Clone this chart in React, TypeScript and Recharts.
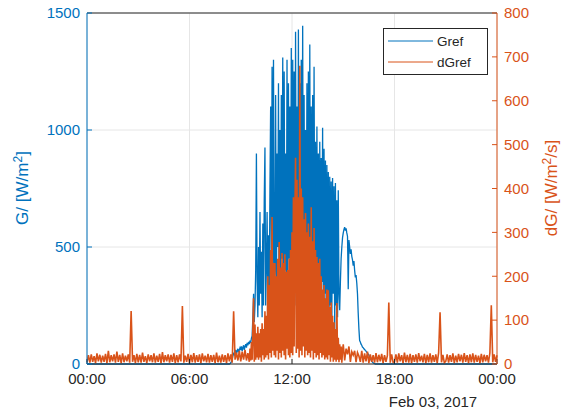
import React from 'react';
import {
  ComposedChart,
  Line,
  XAxis,
  YAxis,
  CartesianGrid,
  ReferenceLine,
} from 'recharts';

const BLUE = '#0072BD';
const ORANGE = '#D95319';
const INK = '#262626';
const FONT = '"Liberation Sans", Arial, Helvetica, sans-serif';

// Gref sampling: 00:00, then every 2.5 min from 08:00 to 17:00, then 24:00
const gTimes = [0, ...Array.from({ length: 217 }, (_, i) => 8 + i / 24), 24];

// global irradiance Gref [W/m2]
const gref = [
  0, // 00:00
  // 08:00
  0, 0, 0, 0, 0, 0, 0, 0, 0, 2, 5, 10, 20, 35, 45, 40, 50, 60, 45, 55, 65, 50, 60, 70,
  // 09:00
  60, 75, 55, 70, 80, 60, 75, 85, 70, 90, 80, 95, 85, 100, 90, 110, 120, 200, 300, 180, 250, 400, 900, 350,
  // 10:00
  200, 500, 250, 650, 300, 480, 200, 600, 250, 700, 925, 250, 400, 650, 300, 550, 250, 750, 1100, 350, 1270, 400, 1300, 350,
  // 11:00
  400, 1150, 250, 900, 500, 1200, 200, 1000, 350, 1150, 450, 1310, 250, 1250, 400, 900, 300, 1300, 200, 1200, 450, 1100, 350, 1350,
  // 12:00
  300, 1300, 450, 1250, 250, 1420, 400, 1100, 200, 1430, 350, 1200, 250, 1300, 450, 1445, 200, 1150, 300, 1000, 400, 1200, 250, 1250,
  // 13:00
  300, 1365, 200, 1100, 350, 1150, 250, 1270, 400, 950, 200, 1015, 300, 900, 150, 950, 250, 880, 350, 1010, 200, 920, 300, 870,
  // 14:00
  200, 850, 300, 820, 150, 800, 250, 780, 200, 795, 300, 760, 150, 773, 250, 700, 200, 743, 300, 230, 350, 450, 500, 540,
  // 15:00
  560, 575, 585, 570, 580, 560, 545, 320, 530, 500, 470, 490, 460, 445, 420, 440, 400, 370, 380, 346, 300, 218, 150, 100,
  // 16:00
  94, 85, 80, 72, 70, 65, 62, 58, 55, 50, 48, 42, 38, 30, 25, 18, 12, 8, 5, 3, 2, 0, 0, 0,
  0, // 17:00
  0, // 24:00
];

// dGref [W/m2/s], 5-min samples 00:00 - 09:25
const dgNight1 = [
  4, 20, 3, 22, 5, 18, 2, 24, 6, 21, 3, 19,
  5, 23, 2, 30, 4, 20, 6, 22, 3, 28, 5, 21,
  2, 24, 4, 19, 6, 22, 3, 121, 5, 20, 2, 23,
  4, 21, 3, 26, 5, 18, 2, 22, 6, 20, 4, 24,
  3, 19, 5, 23, 2, 27, 4, 20, 6, 22, 3, 21,
  5, 24, 2, 20, 4, 22, 6, 132, 3, 19, 5, 23,
  2, 21, 4, 25, 3, 20, 5, 22, 2, 24, 6, 19,
  4, 23, 3, 20, 5, 21, 2, 26, 4, 19, 3, 22,
  5, 20, 2, 24, 6, 22, 3, 120, 10, 26, 8, 30,
  6, 28, 10, 32, 8, 25,
];

// dGref, 2.5-min samples 09:30 - 14:57.5
const dgDay = [
  5, 35, 8, 50, 10, 80, 150, 5, 90, 10, 70, 15,
  85, 10, 70, 15, 80, 5, 93, 20, 80, 10, 120, 15, 110, 20, 200, 10, 180, 25, 260, 15, 335, 30, 230, 20,
  230, 15, 200, 30, 240, 10, 278, 25, 220, 15, 253, 30, 230, 20, 250, 10, 210, 35, 214, 20, 240, 15, 260, 25,
  300, 20, 380, 40, 330, 470, 25, 420, 35, 380, 15, 680, 30, 400, 20, 380, 40, 330, 15, 344, 30, 300, 20, 320,
  25, 290, 15, 357, 30, 280, 10, 310, 25, 260, 15, 244, 20, 230, 10, 240, 25, 200, 15, 170, 20, 180, 10, 150,
  15, 170, 10, 168, 20, 130, 5, 140, 15, 110, 5, 95, 10, 80, 5, 139, 10, 60, 4, 45, 10, 40, 3, 30,
];

// dGref, 5-min samples 15:00 - 24:00
const dgNight2 = [
  45, 8, 35, 22, 40, 5, 28, 20, 30, 4, 26, 18,
  5, 30, 3, 24, 6, 28, 2, 22, 5, 20, 3, 25,
  4, 21, 6, 23, 2, 20, 5, 19, 140, 3, 22, 4,
  5, 22, 3, 24, 6, 20, 2, 26, 4, 21, 3, 23,
  2, 20, 5, 22, 3, 25, 6, 19, 4, 23, 2, 21,
  4, 24, 3, 20, 5, 22, 2, 26, 118, 4, 21, 3,
  6, 22, 3, 20, 5, 24, 2, 19, 4, 23, 6, 21,
  3, 25, 5, 20, 2, 22, 4, 24, 3, 21, 5, 19,
  2, 23, 4, 21, 6, 20, 3, 25, 134, 4, 22, 5,
  20,
];

const dgTimes = [
  ...dgNight1.map((_, i) => i / 12),
  ...dgDay.map((_, i) => 9.5 + i / 24),
  ...dgNight2.map((_, i) => 15 + i / 12),
];
const dgref = [...dgNight1, ...dgDay, ...dgNight2];

const timeTicks = [0, 6, 12, 18, 24];
const gTicks = [0, 500, 1000, 1500];
const dgTicks = [0, 100, 200, 300, 400, 500, 600, 700, 800];

const gData = gTimes.map((t, i) => ({ t, g: gref[i] }));
const dgData = dgTimes.map((t, i) => ({ t, dg: dgref[i] }));

const fmtTime = (h: number) => String(h % 24).padStart(2, '0') + ':00';

export default function App() {
  return (
    <div style={{ position: 'absolute', left: 0, top: 0, width: 570, height: 414, fontFamily: FONT }}>
      <ComposedChart
        width={570}
        height={414}
        margin={{ top: 13, right: 0, bottom: 20, left: 0 }}
        style={{ fontFamily: FONT }}
      >
        <CartesianGrid yAxisId="left" stroke="#e6e6e6" />
        <XAxis
          dataKey="t"
          type="number"
          domain={[0, 24]}
          ticks={timeTicks}
          tickFormatter={fmtTime}
          allowDuplicatedCategory={false}
          height={30}
          stroke={INK}
          tickSize={-5}
          tickMargin={14}
          tick={{ fill: INK, fontSize: 15 }}
        />
        <YAxis
          yAxisId="left"
          domain={[0, 1500]}
          ticks={gTicks}
          width={87}
          stroke={BLUE}
          tickSize={-5}
          tickMargin={12}
          tick={{ fill: BLUE, fontSize: 15 }}
        />
        <YAxis
          yAxisId="right"
          orientation="right"
          domain={[0, 800]}
          ticks={dgTicks}
          width={73}
          stroke={ORANGE}
          tickSize={-5}
          tickMargin={12}
          tick={{ fill: ORANGE, fontSize: 15 }}
        />
        <ReferenceLine yAxisId="left" y={1500} stroke={INK} />
        <Line
          yAxisId="left"
          data={gData}
          dataKey="g"
          stroke={BLUE}
          strokeWidth={1.3}
          dot={false}
          activeDot={false}
          isAnimationActive={false}
        />
        <Line
          yAxisId="right"
          data={dgData}
          dataKey="dg"
          stroke={ORANGE}
          strokeWidth={1.6}
          dot={false}
          activeDot={false}
          isAnimationActive={false}
        />
      </ComposedChart>
      <svg
        width={570}
        height={414}
        style={{ position: 'absolute', left: 0, top: 0, pointerEvents: 'none', fontFamily: FONT }}
      >
        <text x={28} y={188} fill={BLUE} fontSize={17} textAnchor="middle" transform="rotate(-90 28 188)">
          G/ [W/m<tspan dy={-6} fontSize={12}>2</tspan><tspan dy={6}>]</tspan>
        </text>
        <text x={557} y={188} fill={ORANGE} fontSize={17} textAnchor="middle" transform="rotate(-90 557 188)">
          dG/ [W/m<tspan dy={-6} fontSize={12}>2</tspan><tspan dy={6}>/s]</tspan>
        </text>
        <text x={433} y={407} fill={INK} fontSize={15} textAnchor="middle">
          Feb 03, 2017
        </text>
        <rect x={383.5} y={28.5} width={104} height={46} fill="#fff" stroke={INK} />
        <line x1={388} y1={41} x2={433} y2={41} stroke={BLUE} />
        <line x1={388} y1={62} x2={433} y2={62} stroke={ORANGE} />
        <text x={437} y={46} fill={INK} fontSize={13.5}>Gref</text>
        <text x={437} y={67} fill={INK} fontSize={13.5}>dGref</text>
      </svg>
    </div>
  );
}
